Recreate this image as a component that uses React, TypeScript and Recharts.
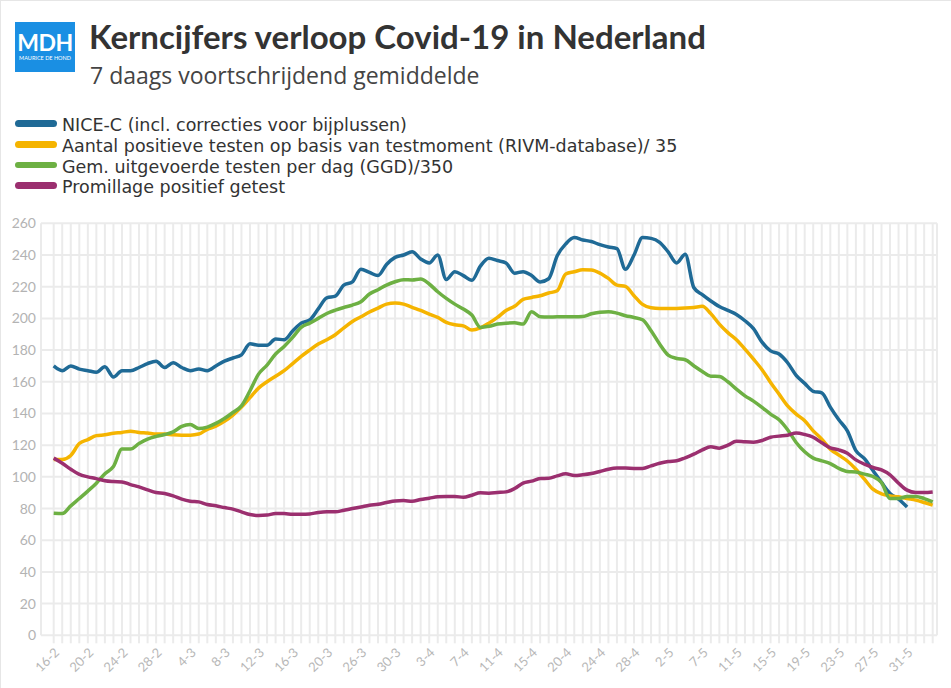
import React from "react"
import { LineChart, Line, XAxis, YAxis, CartesianGrid } from "recharts"

const dates = [
  "16-2", "17-2", "18-2", "19-2", "20-2", "21-2", "22-2", "23-2", "24-2", "25-2", "26-2", "27-2", "28-2", "29-2",
  "2-3", "3-3", "4-3", "5-3", "6-3", "7-3", "8-3", "9-3", "10-3", "11-3", "12-3", "13-3", "14-3", "15-3", "16-3",
  "17-3", "18-3", "19-3", "20-3", "21-3", "24-3", "25-3", "26-3", "27-3", "28-3", "29-3", "30-3", "31-3",
  "1-4", "2-4", "3-4", "4-4", "5-4", "6-4", "7-4", "8-4", "9-4", "10-4", "11-4", "12-4", "13-4", "14-4", "15-4",
  "16-4", "17-4", "19-4", "20-4", "21-4", "22-4", "23-4", "24-4", "25-4", "26-4", "27-4", "28-4", "29-4", "30-4",
  "1-5", "2-5", "3-5", "5-5", "6-5", "7-5", "8-5", "9-5", "10-5", "11-5", "12-5", "13-5", "14-5", "15-5", "16-5",
  "17-5", "18-5", "19-5", "20-5", "21-5", "22-5", "23-5", "24-5", "25-5", "26-5", "27-5", "28-5", "29-5", "30-5",
  "31-5", "1-6", "2-6", "3-6",
]

// NICE-C (stopt op 31-5)
const niceC = [
  170, 167, 170, 168, 167, 166, 169.5, 163, 167, 167, 169, 171.5, 173, 169, 172, 169, 167, 168, 167, 170,
  173, 175, 177, 184, 183, 183, 187, 186.5, 192, 197, 199, 206, 213, 214, 221, 223, 231, 229, 227, 234,
  238.5, 240, 242, 237.5, 235, 240, 224.5, 229.5, 227, 224, 233, 238, 236.5, 235, 228.5, 229.5, 227, 223, 225, 239.5,
  247, 251, 249.5, 248.5, 246.5, 245, 244, 231, 240, 251, 250.5, 248, 242, 235, 240.5, 219.5, 215, 211, 207.5, 205,
  202.5, 198.5, 193.5, 185, 179.5, 177.5, 172, 164, 159, 154, 153, 144, 136, 129, 116.5, 111.5, 104, 96.5, 89.5, 86,
  81,
]

const positief = [
  111, 111, 113.5, 121, 123.5, 126, 126.5, 127.5, 128, 128.8, 128, 127.6, 127, 127, 126.5, 126.3, 126.3, 127, 130, 132,
  135, 139, 144, 150, 156, 160, 163.5, 167, 171.5, 176, 180, 183.8, 186.5, 189.7, 194, 198, 201, 204, 206.5, 209,
  209.7, 209, 207, 205, 202.7, 200.6, 197.5, 196, 195.3, 192.6, 194, 197, 200.6, 205, 207.6, 212, 213.2, 214.3, 216, 217.4,
  228, 229.4, 230.7, 230.5, 228.6, 225.2, 221, 220.2, 214.3, 208.8, 206.7, 206.3, 206.3, 206.3, 206.5, 206.9, 207.6, 203, 196.4, 191,
  186.5, 180.6, 174.3, 167.6, 159.6, 152.2, 144.8, 139.6, 135.4, 129, 123.8, 117.5, 113.7, 110, 104.8, 98.5, 92.2, 89.3, 88, 87.4,
  86.3, 85.3, 83.8, 82.1,
]

const testen = [
  77, 76.8, 81.7, 86.3, 91, 96, 102, 106.5, 117.5, 117.5, 121, 123.8, 125.5, 126.7, 128.4, 131.8, 133, 130.5, 131.4, 133.7,
  136.8, 140.6, 144.8, 154.3, 164.8, 170.5, 177.5, 182.3, 188, 194.3, 197, 200, 203.1, 205.2, 206.9, 208.4, 210.5, 215.4, 218.1, 221,
  223.1, 224.4, 224.2, 224.8, 221.7, 216.8, 212.6, 209, 205.9, 202.1, 194.3, 195, 196.4, 197, 197.2, 196.4, 204.2, 201, 200.8, 201,
  201, 201, 201.2, 202.9, 203.8, 204.2, 203.3, 201.7, 200.6, 199.1, 192.2, 183.8, 176.8, 174.7, 173.9, 170.1, 166.5, 163.5, 163.3, 160,
  155.3, 151.1, 147.8, 143.8, 139.6, 136, 129.7, 121.7, 115.8, 111.8, 110.1, 108.4, 105.3, 103.4, 103.1, 101.7, 100.2, 96.4, 86.3, 86.3,
  87.6, 87.6, 86.3, 84.2,
]

const promillage = [
  111.8, 108.6, 104.8, 101.5, 100, 98.9, 97.5, 97, 96.8, 95.1, 93.7, 91.8, 90.1, 89.5, 88, 85.9, 84.6, 84.2, 82.5, 81.7,
  80.6, 79.6, 77.9, 76.2, 75.6, 75.9, 76.8, 76.8, 76.4, 76.4, 76.6, 77.5, 77.9, 77.9, 78.9, 80, 81, 82.1, 82.7, 83.8,
  84.8, 85, 84.6, 85.7, 86.5, 87.4, 87.6, 87.6, 87.1, 88.4, 89.9, 89.7, 90.1, 90.5, 92.6, 96, 97.3, 98.9, 99.1, 100.6,
  101.9, 100.8, 101.3, 102.1, 103.4, 104.8, 105.5, 105.5, 105.3, 105.3, 106.9, 108.6, 109.7, 110.1, 112, 114.3, 117, 119, 118.1, 120,
  122.5, 122.1, 121.9, 122.9, 125, 125.7, 126.3, 127.6, 126.7, 125, 121.5, 118.3, 117, 114.9, 110.7, 108, 105.9, 104.4, 101.3, 96,
  91.6, 90.1, 90.1, 90.5,
]

const yTicks = [0, 20, 40, 60, 80, 100, 120, 140, 160, 180, 200, 220, 240, 260]

const series = [
  { key: "niceC", name: "NICE-C (incl. correcties voor bijplussen)", color: "#1f6a96" },
  { key: "positief", name: "Aantal positieve testen op basis van testmoment (RIVM-database)/ 35", color: "#f5b400" },
  { key: "testen", name: "Gem. uitgevoerde testen per dag (GGD)/350", color: "#6db043" },
  { key: "promillage", name: "Promillage positief getest", color: "#9b2f6f" },
]

const data = dates.map((date, i) => ({
  date,
  niceC: niceC[i] ?? null,
  positief: positief[i],
  testen: testen[i],
  promillage: promillage[i],
}))

const font = "Lato, 'Open Sans', sans-serif"
const textFont = "'Open Sans', Lato, sans-serif"
const legendFont = "'DejaVu Sans', 'Open Sans', sans-serif"
const gridColor = "#ebebeb"

const DateTick = (props: any) => {
  const { x, y, payload } = props
  const i = dates.indexOf(payload.value)
  if (i % 4 !== 0) return null
  const px = x + 6.5
  const py = y + 8
  return (
    <text x={px} y={py} transform={`rotate(-45 ${px} ${py})`} textAnchor="end" fontSize={13} fill="#b8b8b8" fontFamily={font}>
      {payload.value}
    </text>
  )
}

export default function App() {
  return (
    <div
      style={{
        position: "absolute",
        left: 0,
        top: 0,
        width: 951,
        height: 688,
        background: "#fff",
        fontFamily: font,
        overflow: "hidden",
        boxSizing: "border-box",
        borderLeft: "1px solid #e6e6e6",
        borderTop: "1px solid #e6e6e6",
      }}
    >
      <LineChart width={951} height={688} data={data} margin={{ top: 222.3, right: 15, bottom: 3.7, left: 0 }}>
        <CartesianGrid stroke={gridColor} strokeWidth={2} />
        <XAxis
          dataKey="date"
          scale="point"
          interval={0}
          padding={{ left: 12.7, right: 4.3 }}
          height={50}
          axisLine={false}
          tickLine={{ stroke: gridColor, strokeWidth: 2 }}
          tickSize={8}
          tickMargin={2}
          tick={<DateTick />}
        />
        <YAxis
          domain={[0, 260]}
          ticks={yTicks}
          width={40}
          axisLine={false}
          tickLine={false}
          tickSize={0}
          tickMargin={5}
          tick={{ fontSize: 14, fill: "#b3b3b3", fontFamily: font }}
        />
        {series.map((s) => (
          <Line
            key={s.key}
            dataKey={s.key}
            name={s.name}
            type="monotone"
            stroke={s.color}
            strokeWidth={3.5}
            dot={false}
            isAnimationActive={false}
          />
        ))}
      </LineChart>

      <div
        style={{
          position: "absolute",
          left: 14,
          top: 21,
          width: 60,
          height: 50,
          background: "#1a8fe3",
          color: "#fff",
          textAlign: "center",
        }}
      >
        <div style={{ fontWeight: 700, fontSize: 23, lineHeight: "23px", marginTop: 9, letterSpacing: -0.5 }}>MDH</div>
        <div style={{ fontSize: 5.5, lineHeight: "6px", marginTop: 1, whiteSpace: "nowrap" }}>MAURICE DE HOND</div>
      </div>

      <div
        style={{
          position: "absolute",
          left: 88,
          top: 19,
          fontSize: 33,
          lineHeight: "33px",
          fontWeight: 700,
          color: "#333",
          whiteSpace: "nowrap",
        }}
      >
        Kerncijfers verloop Covid-19 in Nederland
      </div>
      <div
        style={{
          position: "absolute",
          left: 89,
          top: 63,
          fontSize: 23,
          lineHeight: "23px",
          fontFamily: textFont,
          color: "#444",
          whiteSpace: "nowrap",
        }}
      >
        7 daags voortschrijdend gemiddelde
      </div>

      {series.map((s, k) => (
        <div key={s.key} style={{ position: "absolute", left: 14, top: 114.3 + k * 20.7, width: 700, height: 20.7 }}>
          <div
            style={{
              position: "absolute",
              left: 0,
              top: 5.1,
              width: 42,
              height: 6.5,
              borderRadius: 4,
              background: s.color,
            }}
          />
          <div
            style={{
              position: "absolute",
              left: 47,
              top: 0,
              lineHeight: "20.7px",
              fontSize: 17.5,
              fontFamily: legendFont,
              color: "#333",
              whiteSpace: "nowrap",
            }}
          >
            {s.name}
          </div>
        </div>
      ))}
    </div>
  )
}
